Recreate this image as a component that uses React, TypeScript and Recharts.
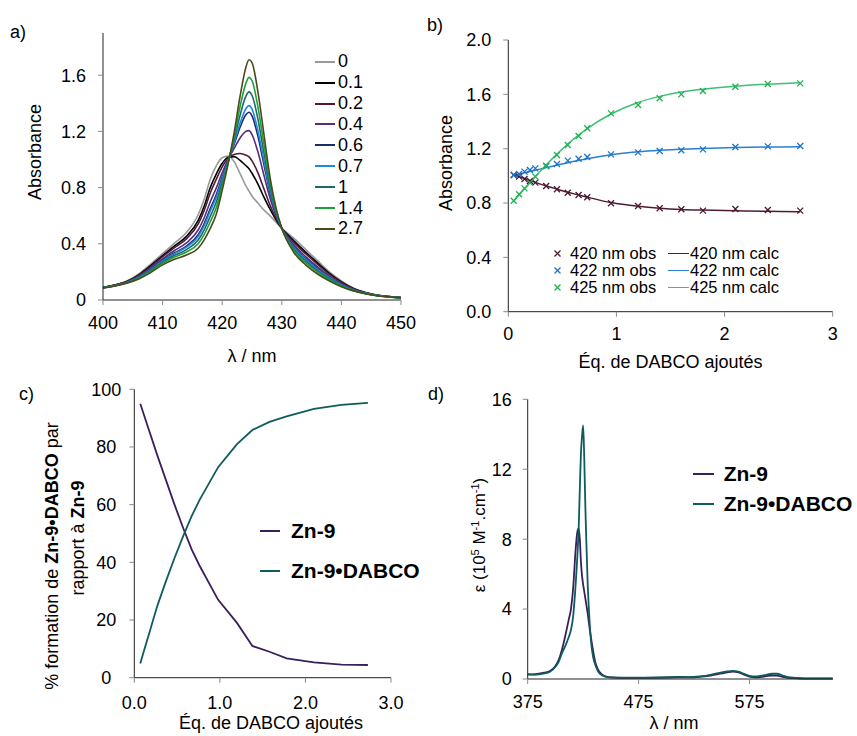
import React from 'react';
import { ComposedChart, LineChart, Line, Scatter, XAxis, YAxis, Legend } from 'recharts';

const FONT = '"Liberation Sans", Arial, Helvetica, sans-serif';
const W = 857;
const H = 736;

// a) spectra recorded during the titration
const lambdaA = [400, 402, 404, 406, 408, 410, 412, 414, 416, 417, 418, 419, 420, 421, 422, 423, 424, 424.5, 425, 426, 427, 428, 429, 430, 432, 434, 436, 438, 440, 442, 444, 446, 448, 450];
const absEq0 = [0.090, 0.108, 0.135, 0.185, 0.255, 0.330, 0.405, 0.480, 0.610, 0.720, 0.860, 0.955, 1.012, 1.025, 0.985, 0.900, 0.810, 0.775, 0.740, 0.690, 0.640, 0.600, 0.555, 0.510, 0.440, 0.360, 0.280, 0.200, 0.135, 0.085, 0.055, 0.035, 0.025, 0.018];
const absEq01 = [0.089, 0.107, 0.132, 0.179, 0.245, 0.316, 0.385, 0.453, 0.569, 0.671, 0.800, 0.896, 0.973, 1.016, 1.020, 0.994, 0.955, 0.934, 0.902, 0.824, 0.732, 0.648, 0.573, 0.510, 0.423, 0.341, 0.264, 0.189, 0.128, 0.082, 0.053, 0.034, 0.025, 0.018];
const absEq02 = [0.089, 0.106, 0.131, 0.175, 0.238, 0.308, 0.373, 0.435, 0.543, 0.639, 0.762, 0.858, 0.947, 1.010, 1.036, 1.042, 1.030, 1.018, 0.990, 0.905, 0.791, 0.678, 0.584, 0.510, 0.412, 0.329, 0.253, 0.182, 0.124, 0.079, 0.052, 0.034, 0.024, 0.017];
const absEq04 = [0.088, 0.104, 0.128, 0.169, 0.227, 0.293, 0.352, 0.406, 0.500, 0.587, 0.699, 0.796, 0.905, 1.000, 1.079, 1.153, 1.201, 1.205, 1.177, 1.053, 0.888, 0.729, 0.603, 0.510, 0.394, 0.309, 0.236, 0.170, 0.117, 0.076, 0.050, 0.033, 0.024, 0.017];
const absEq06 = [0.087, 0.103, 0.126, 0.164, 0.219, 0.282, 0.336, 0.384, 0.466, 0.546, 0.650, 0.748, 0.873, 0.992, 1.108, 1.230, 1.320, 1.336, 1.310, 1.164, 0.964, 0.768, 0.618, 0.510, 0.380, 0.294, 0.223, 0.161, 0.111, 0.073, 0.049, 0.032, 0.023, 0.016];
const absEq07 = [0.087, 0.103, 0.125, 0.162, 0.216, 0.278, 0.330, 0.376, 0.454, 0.532, 0.633, 0.731, 0.861, 0.989, 1.118, 1.258, 1.363, 1.383, 1.358, 1.204, 0.991, 0.782, 0.623, 0.510, 0.375, 0.289, 0.218, 0.158, 0.109, 0.072, 0.049, 0.032, 0.023, 0.016];
const absEq1 = [0.086, 0.102, 0.124, 0.159, 0.210, 0.270, 0.318, 0.359, 0.429, 0.501, 0.596, 0.695, 0.837, 0.983, 1.140, 1.315, 1.452, 1.481, 1.457, 1.286, 1.048, 0.811, 0.634, 0.510, 0.365, 0.277, 0.208, 0.151, 0.105, 0.070, 0.047, 0.031, 0.023, 0.016];
const absEq14 = [0.086, 0.101, 0.122, 0.155, 0.203, 0.261, 0.306, 0.342, 0.402, 0.469, 0.557, 0.657, 0.811, 0.977, 1.162, 1.376, 1.545, 1.584, 1.562, 1.373, 1.107, 0.842, 0.646, 0.510, 0.354, 0.265, 0.198, 0.144, 0.100, 0.068, 0.046, 0.031, 0.022, 0.015];
const absEq27 = [0.085, 0.100, 0.120, 0.150, 0.195, 0.250, 0.290, 0.320, 0.370, 0.430, 0.510, 0.610, 0.780, 0.970, 1.190, 1.450, 1.660, 1.710, 1.690, 1.480, 1.180, 0.880, 0.660, 0.510, 0.340, 0.250, 0.185, 0.135, 0.095, 0.065, 0.045, 0.030, 0.022, 0.015];

const seriesA = [
  { name: '0', values: absEq0, color: '#9a9a9a' },
  { name: '0.1', values: absEq01, color: '#000000' },
  { name: '0.2', values: absEq02, color: '#4f1c36' },
  { name: '0.4', values: absEq04, color: '#5a2d80' },
  { name: '0.6', values: absEq06, color: '#1c2c6c' },
  { name: '0.7', values: absEq07, color: '#1e88dc' },
  { name: '1', values: absEq1, color: '#1d6a6a' },
  { name: '1.4', values: absEq14, color: '#1f9e3c' },
  { name: '2.7', values: absEq27, color: '#4a4a1c' },
];

// b) absorbance at three wavelengths vs equivalents of DABCO
const eqB = [0.05, 0.1, 0.15, 0.2, 0.25, 0.35, 0.45, 0.55, 0.65, 0.73, 0.95, 1.2, 1.4, 1.6, 1.8, 2.1, 2.4, 2.7];
const obs420 = [1.006, 0.994, 0.977, 0.962, 0.950, 0.925, 0.901, 0.876, 0.859, 0.842, 0.798, 0.778, 0.761, 0.754, 0.744, 0.756, 0.749, 0.744];
const obs422 = [1.006, 1.014, 1.031, 1.043, 1.055, 1.072, 1.087, 1.112, 1.126, 1.139, 1.158, 1.173, 1.183, 1.188, 1.195, 1.212, 1.217, 1.220];
const obs425 = [0.817, 0.864, 0.908, 0.950, 0.994, 1.072, 1.153, 1.227, 1.293, 1.350, 1.460, 1.522, 1.571, 1.600, 1.625, 1.656, 1.676, 1.681];
const calc420 = [1.008, 0.994, 0.980, 0.966, 0.952, 0.926, 0.902, 0.879, 0.859, 0.843, 0.803, 0.776, 0.762, 0.753, 0.748, 0.743, 0.739, 0.736];
const calc422 = [1.006, 1.014, 1.023, 1.032, 1.041, 1.061, 1.079, 1.097, 1.113, 1.126, 1.156, 1.177, 1.188, 1.196, 1.202, 1.208, 1.212, 1.215];
const calc425 = [0.815, 0.860, 0.905, 0.950, 0.995, 1.080, 1.160, 1.234, 1.300, 1.348, 1.455, 1.540, 1.585, 1.617, 1.638, 1.660, 1.675, 1.686];

const seriesB = [
  { nm: '420', obs: obs420, calc: calc420, obsColor: '#4a1830', calcColor: '#4f1c36' },
  { nm: '422', obs: obs422, calc: calc422, obsColor: '#1c74c8', calcColor: '#2a7fd0' },
  { nm: '425', obs: obs425, calc: calc425, obsColor: '#1fb350', calcColor: '#3cc076' },
];

// c) species distribution
const eqC = [0.07, 0.12, 0.17, 0.22, 0.27, 0.37, 0.47, 0.57, 0.67, 0.76, 0.98, 1.2, 1.38, 1.58, 1.78, 2.1, 2.42, 2.73];
const pctZn9 = [95, 90.5, 86, 81.5, 77, 68.5, 60, 52, 44.5, 39, 27, 19, 11, 9, 6.7, 5.3, 4.5, 4.4];
const pctZn9Dabco = [4.9, 10, 15, 20, 25, 33.5, 41.5, 49, 56, 61.5, 73, 81, 85.9, 88.7, 90.6, 93.2, 94.6, 95.3];

// d) calculated molar absorptivity spectra
const lambdaD = [375, 380, 385, 390, 395, 400, 403, 406, 409, 412, 414, 416, 418, 419, 420, 421, 422, 423, 424, 425, 426, 427, 428, 429, 430, 432, 434, 436, 438, 440, 445, 450, 460, 480, 500, 510, 520, 530, 540, 550, 555, 560, 565, 570, 575, 580, 585, 590, 595, 600, 605, 610, 620, 630, 640, 650];
const epsZn9 = [0.27, 0.27, 0.30, 0.36, 0.45, 0.75, 1.1, 1.7, 2.5, 3.4, 4.0, 5.2, 7.2, 8.0, 8.5, 8.62, 8.0, 6.7, 5.9, 5.4, 5.0, 4.6, 4.2, 3.8, 3.3, 2.4, 1.6, 0.95, 0.6, 0.38, 0.15, 0.09, 0.07, 0.07, 0.08, 0.09, 0.09, 0.12, 0.2, 0.32, 0.38, 0.42, 0.38, 0.25, 0.13, 0.09, 0.11, 0.16, 0.2, 0.19, 0.12, 0.06, 0.03, 0.02, 0.02, 0.02];
const epsZn9Dabco = [0.27, 0.25, 0.27, 0.32, 0.42, 0.7, 1.0, 1.5, 1.9, 2.4, 2.8, 3.6, 5.2, 6.2, 7.3, 8.7, 10.9, 12.9, 13.9, 14.5, 12.6, 9.8, 7.6, 5.6, 4.2, 2.2, 1.25, 0.8, 0.5, 0.3, 0.13, 0.09, 0.08, 0.08, 0.1, 0.12, 0.11, 0.15, 0.24, 0.38, 0.44, 0.47, 0.42, 0.3, 0.18, 0.15, 0.18, 0.24, 0.3, 0.3, 0.2, 0.1, 0.05, 0.04, 0.04, 0.04];

const ZN9_COLOR = '#3a1f5e';
const DABCO_COLOR = '#0e5c5c';

const dataA = lambdaA.map((w, i) => {
  const row: any = { w };
  seriesA.forEach((s, k) => { row['s' + k] = s.values[i]; });
  return row;
});
const dataB = eqB.map((x, i) => ({ x, o420: obs420[i], o422: obs422[i], o425: obs425[i], c420: calc420[i], c422: calc422[i], c425: calc425[i] }));
const dataC = eqC.map((x, i) => ({ x, zn9: pctZn9[i], dabco: pctZn9Dabco[i] }));
const dataD = lambdaD.map((w, i) => ({ w, zn9: epsZn9[i], dabco: epsZn9Dabco[i] }));

const tickStyle = { fontSize: 18, fill: '#000', fontFamily: FONT };
const axisLine = { stroke: '#222', strokeWidth: 1 };
const tickLine = { stroke: '#888', strokeWidth: 1 };
const textProps = { fontFamily: FONT, fill: '#000' };

const wrap: React.CSSProperties = { position: 'absolute', left: 0, top: 0 };

const xTitle = (x: number, y: number, text: string) => ({
  content: () => <text x={x} y={y} textAnchor="middle" fontSize={18} {...textProps}>{text}</text>,
});

const Cross = ({ cx, cy, color }: any) => {
  const r = 3;
  return (
    <path
      d={`M${cx - r},${cy - r}L${cx + r},${cy + r}M${cx - r},${cy + r}L${cx + r},${cy - r}`}
      stroke={color}
      strokeWidth={1.3}
      fill="none"
    />
  );
};

const CenteredTick = ({ x, y, payload }: any) => (
  <text x={x - 17} y={y} dy="0.355em" textAnchor="middle" fontSize={18} {...textProps}>{payload.value}</text>
);

const lineSwatch = (color: string, width: number, thickness = 2) => (
  <span style={{ display: 'inline-block', width, height: 0, borderTop: `${thickness}px solid ${color}` }} />
);

const LegendA = () => (
  <div style={{ fontFamily: FONT, fontSize: 18, color: '#000' }}>
    {seriesA.map((s, i) => (
      <div key={s.name} style={{ position: 'absolute', left: 315, top: 51.2 + i * 20.9, height: 21, display: 'flex', alignItems: 'center', whiteSpace: 'nowrap' }}>
        {lineSwatch(s.color, 20)}
        <span style={{ marginLeft: 3 }}>{s.name}</span>
      </div>
    ))}
  </div>
);

const LegendB = () => (
  <div style={{ fontFamily: FONT, fontSize: 16.5, color: '#000' }}>
    {seriesB.map((s, i) => (
      <React.Fragment key={s.nm}>
        <div style={{ position: 'absolute', left: 552, top: 244 + i * 17.3, height: 18, display: 'flex', alignItems: 'center', whiteSpace: 'nowrap' }}>
          <svg width={11} height={11}><Cross cx={5.5} cy={5.5} color={s.obsColor} /></svg>
          <span style={{ marginLeft: 7 }}>{s.nm} nm obs</span>
        </div>
        <div style={{ position: 'absolute', left: 668, top: 244 + i * 17.3, height: 18, display: 'flex', alignItems: 'center', whiteSpace: 'nowrap' }}>
          {lineSwatch(s.calcColor, 21, 1.6)}
          <span style={{ marginLeft: 1 }}>{s.nm} nm calc</span>
        </div>
      </React.Fragment>
    ))}
  </div>
);

const speciesLegend = (left: number, top: number, gap: number, lineW: number, textGap: number) => () => (
  <div style={{ fontFamily: FONT, fontSize: 21, fontWeight: 'bold', color: '#000' }}>
    {[{ name: 'Zn-9', color: ZN9_COLOR }, { name: 'Zn-9•DABCO', color: DABCO_COLOR }].map((s, i) => (
      <div key={s.name} style={{ position: 'absolute', left, top: top + i * gap, height: 24, display: 'flex', alignItems: 'center', whiteSpace: 'nowrap' }}>
        {lineSwatch(s.color, lineW, 2)}
        <span style={{ marginLeft: textGap }}>{s.name}</span>
      </div>
    ))}
  </div>
);

const legendPlacement = { layout: 'vertical' as const, align: 'center' as const, verticalAlign: 'middle' as const, wrapperStyle: { left: 0, top: 0, width: 0, height: 0 } };

export default function App() {
  return (
    <div style={{ position: 'absolute', left: 0, top: 0, width: W, height: H, background: '#fff', fontFamily: FONT }}>
      {/* a) */}
      <div style={wrap}>
        <LineChart width={W} height={H} data={dataA} margin={{ left: 43, right: 456, top: 33, bottom: 406 }}>
          <XAxis dataKey="w" type="number" domain={[400, 450]} ticks={[400, 410, 420, 430, 440, 450]} height={30}
            tick={tickStyle} tickSize={5} tickMargin={11} axisLine={axisLine} tickLine={tickLine}
            label={xTitle(252, 362, 'λ / nm')} />
          <YAxis type="number" domain={[0, 1.9]} ticks={[0, 0.4, 0.8, 1.2, 1.6]} width={60}
            tickFormatter={(v: number) => (v === 0 ? '0' : v.toFixed(1))}
            tick={tickStyle} tickSize={5} tickMargin={12} axisLine={axisLine} tickLine={tickLine}
            label={{
              content: () => (
                <g>
                  <text x={10} y={38} fontSize={18} {...textProps}>a)</text>
                  <text x={41} y={152} transform="rotate(-90 41 152)" textAnchor="middle" fontSize={18} {...textProps}>Absorbance</text>
                </g>
              ),
            }} />
          {seriesA.map((s, k) => (
            <Line key={s.name} name={s.name} dataKey={'s' + k} type="monotone" stroke={s.color} strokeWidth={1.6} dot={false} isAnimationActive={false} />
          ))}
          <Legend {...legendPlacement} content={LegendA} />
        </LineChart>
      </div>

      {/* b) */}
      <div style={wrap}>
        <ComposedChart width={W} height={H} data={dataB} margin={{ left: 448.3, right: 24.3, top: 40, bottom: 394.3 }}>
          <XAxis dataKey="x" type="number" domain={[0, 3]} ticks={[0, 1, 2, 3]} height={30}
            tick={tickStyle} tickSize={5} tickMargin={11} axisLine={axisLine} tickLine={tickLine}
            label={xTitle(670.5, 368, 'Éq. de DABCO ajoutés')} />
          <YAxis type="number" domain={[0, 2]} ticks={[0, 0.4, 0.8, 1.2, 1.6, 2.0]} width={60}
            tickFormatter={(v: number) => v.toFixed(1)}
            tick={tickStyle} tickSize={5} tickMargin={12} axisLine={axisLine} tickLine={tickLine}
            label={{
              content: () => (
                <g>
                  <text x={427} y={31} fontSize={18} {...textProps}>b)</text>
                  <text x={452} y={163} transform="rotate(-90 452 163)" textAnchor="middle" fontSize={18} {...textProps}>Absorbance</text>
                </g>
              ),
            }} />
          {seriesB.map((s) => (
            <Line key={'c' + s.nm} name={s.nm + ' nm calc'} data={dataB} dataKey={'c' + s.nm} type="monotone" stroke={s.calcColor} strokeWidth={1.5} dot={false} isAnimationActive={false} />
          ))}
          {seriesB.map((s) => (
            <Scatter key={'o' + s.nm} name={s.nm + ' nm obs'} data={dataB} dataKey={'o' + s.nm} fill={s.obsColor}
              shape={(p: any) => <Cross cx={p.cx} cy={p.cy} color={s.obsColor} />} isAnimationActive={false} />
          ))}
          <Legend {...legendPlacement} content={LegendB} />
        </ComposedChart>
      </div>

      {/* c) */}
      <div style={wrap}>
        <LineChart width={W} height={H} data={dataC} margin={{ left: 74.3, right: 466, top: 389.3, bottom: 28.3 }}>
          <XAxis dataKey="x" type="number" domain={[0, 3]} ticks={[0, 1, 2, 3]} height={30}
            tickFormatter={(v: number) => v.toFixed(1)}
            tick={tickStyle} tickSize={5} tickMargin={14} axisLine={axisLine} tickLine={tickLine}
            label={xTitle(271, 729, 'Éq. de DABCO ajoutés')} />
          <YAxis type="number" domain={[0, 100]} ticks={[0, 20, 40, 60, 80, 100]} width={60}
            tick={<CenteredTick />} tickSize={5} tickMargin={6} axisLine={axisLine} tickLine={tickLine}
            label={{
              content: () => (
                <g>
                  <text x={19} y={400} fontSize={18} {...textProps}>c)</text>
                  <text x={58} y={556} transform="rotate(-90 58 556)" textAnchor="middle" fontSize={18} {...textProps}>
                    % formation de <tspan fontWeight="bold">Zn-9•DABCO</tspan> par
                  </text>
                  <text x={84} y={538} transform="rotate(-90 84 538)" textAnchor="middle" fontSize={18} {...textProps}>
                    rapport à <tspan fontWeight="bold">Zn-9</tspan>
                  </text>
                </g>
              ),
            }} />
          <Line name="Zn-9" dataKey="zn9" type="linear" stroke={ZN9_COLOR} strokeWidth={1.8} dot={false} isAnimationActive={false} />
          <Line name="Zn-9•DABCO" dataKey="dabco" type="linear" stroke={DABCO_COLOR} strokeWidth={1.8} dot={false} isAnimationActive={false} />
          <Legend {...legendPlacement} content={speciesLegend(260, 518.7, 40, 20, 11)} />
        </LineChart>
      </div>

      {/* d) */}
      <div style={wrap}>
        <LineChart width={W} height={H} data={dataD} margin={{ left: 467.7, right: 24.3, top: 399.3, bottom: 27 }}>
          <XAxis dataKey="w" type="number" domain={[375, 650]} ticks={[375, 475, 575]} height={30}
            tick={tickStyle} tickSize={5} tickMargin={11} axisLine={axisLine} tickLine={tickLine}
            label={xTitle(674, 729, 'λ / nm')} />
          <YAxis type="number" domain={[0, 16]} ticks={[0, 4, 8, 12, 16]} width={60}
            tick={tickStyle} tickSize={5} tickMargin={11} axisLine={axisLine} tickLine={tickLine}
            label={{
              content: () => (
                <g>
                  <text x={428} y={400} fontSize={18} {...textProps}>d)</text>
                  <text x={485} y={535} transform="rotate(-90 485 535)" textAnchor="middle" fontSize={17} {...textProps}>
                    ε (10<tspan dy={-6} fontSize={11}>5</tspan><tspan dy={6}> M</tspan><tspan dy={-6} fontSize={11}>-1</tspan><tspan dy={6}>.cm</tspan><tspan dy={-6} fontSize={11}>-1</tspan><tspan dy={6}>)</tspan>
                  </text>
                </g>
              ),
            }} />
          <Line name="Zn-9" dataKey="zn9" type="monotone" stroke={ZN9_COLOR} strokeWidth={1.8} dot={false} isAnimationActive={false} />
          <Line name="Zn-9•DABCO" dataKey="dabco" type="monotone" stroke={DABCO_COLOR} strokeWidth={1.8} dot={false} isAnimationActive={false} />
          <Legend {...legendPlacement} content={speciesLegend(692.7, 462.3, 29.7, 21, 10)} />
        </LineChart>
      </div>
    </div>
  );
}
